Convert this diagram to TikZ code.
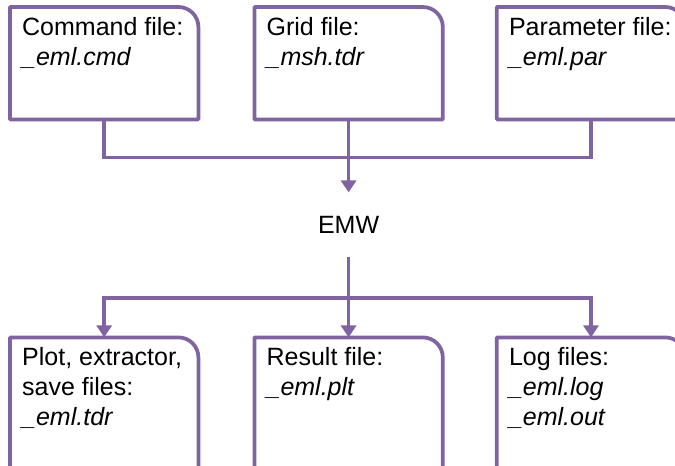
\documentclass[tikz,border=0pt]{standalone}
\usepackage{fontspec}
\setmainfont{Liberation Sans}
\usepackage{tikz}
\usetikzlibrary{arrows.meta, positioning}
\definecolor{flowpurple}{HTML}{8064A2}

\begin{document}
\begin{tikzpicture}[
    x=1pt, y=1pt,
    node distance=55pt,
    font=\fontsize{25}{30}\selectfont,
    filebox/.style={rectangle, inner sep=0pt, minimum width=188pt, minimum height=112pt},
    outbox/.style={rectangle, inner sep=0pt, minimum width=188pt, minimum height=150pt},
    boxtext/.style={anchor=north west, align=left, inner xsep=12pt, inner ysep=10pt},
    boxline/.style={draw=flowpurple, line width=3.75pt, line join=round},
    link/.style={draw=flowpurple, line width=3.75pt},
    arrow/.style={link, -{Triangle[width=15pt, length=12pt]}}
]
\useasboundingbox (0,0) rectangle (675,466);
\clip (0,0) rectangle (675,466);

% Nodes
\node[filebox, anchor=north west] (cmd) at (10,459) {};
\node[filebox, right=56pt of cmd] (grid) {};
\node[filebox, right=54pt of grid] (par) {};

\node[below=73pt of grid, minimum height=64pt, inner sep=0pt] (emw) {EMW};

\node[outbox, below=218pt of cmd] (plot) {};
\node[outbox, below=218pt of grid] (res) {};
\node[outbox, below=218pt of par] (log) {};

\node[boxtext] (cmdtext) at (cmd.north west) {Command file:\\\textit{\_eml.cmd}};
\node[boxtext] (gridtext) at (grid.north west) {Grid file:\\\textit{\_msh.tdr}};
\node[boxtext] (partext) at (par.north west) {Parameter file:\\\textit{\_eml.par}};
\node[boxtext] (plottext) at (plot.north west) {Plot, extractor,\\save files:\\\textit{\_eml.tdr}};
\node[boxtext] (restext) at (res.north west) {Result file:\\\textit{\_eml.plt}};
\node[boxtext] (logtext) at (log.north west) {Log files:\\\textit{\_eml.log}\\\textit{\_eml.out}};

% Box outlines, only the top right corner is round
\foreach \b in {cmd, grid, par, plot, res, log}
    \draw[boxline] (\b.south west) -- (\b.north west) -- ([xshift=-20pt]\b.north east)
        arc[start angle=90, end angle=0, radius=20pt] -- (\b.south east) -- cycle;

% Arrows
\coordinate (join) at ([yshift=-38pt]grid.south);
\coordinate (split) at ([yshift=-41pt]emw.south);

\draw[link] (cmd.south) |- (join) -| (par.south);
\draw[link] (grid.south) -- (join);
\draw[arrow] (join) -- (emw.north);

\draw[link] (emw.south) -- (split);
\draw[arrow] (split) -| (plot.north);
\draw[arrow] (split) -- (res.north);
\draw[arrow] (split) -| (log.north);

\end{tikzpicture}
\end{document}
